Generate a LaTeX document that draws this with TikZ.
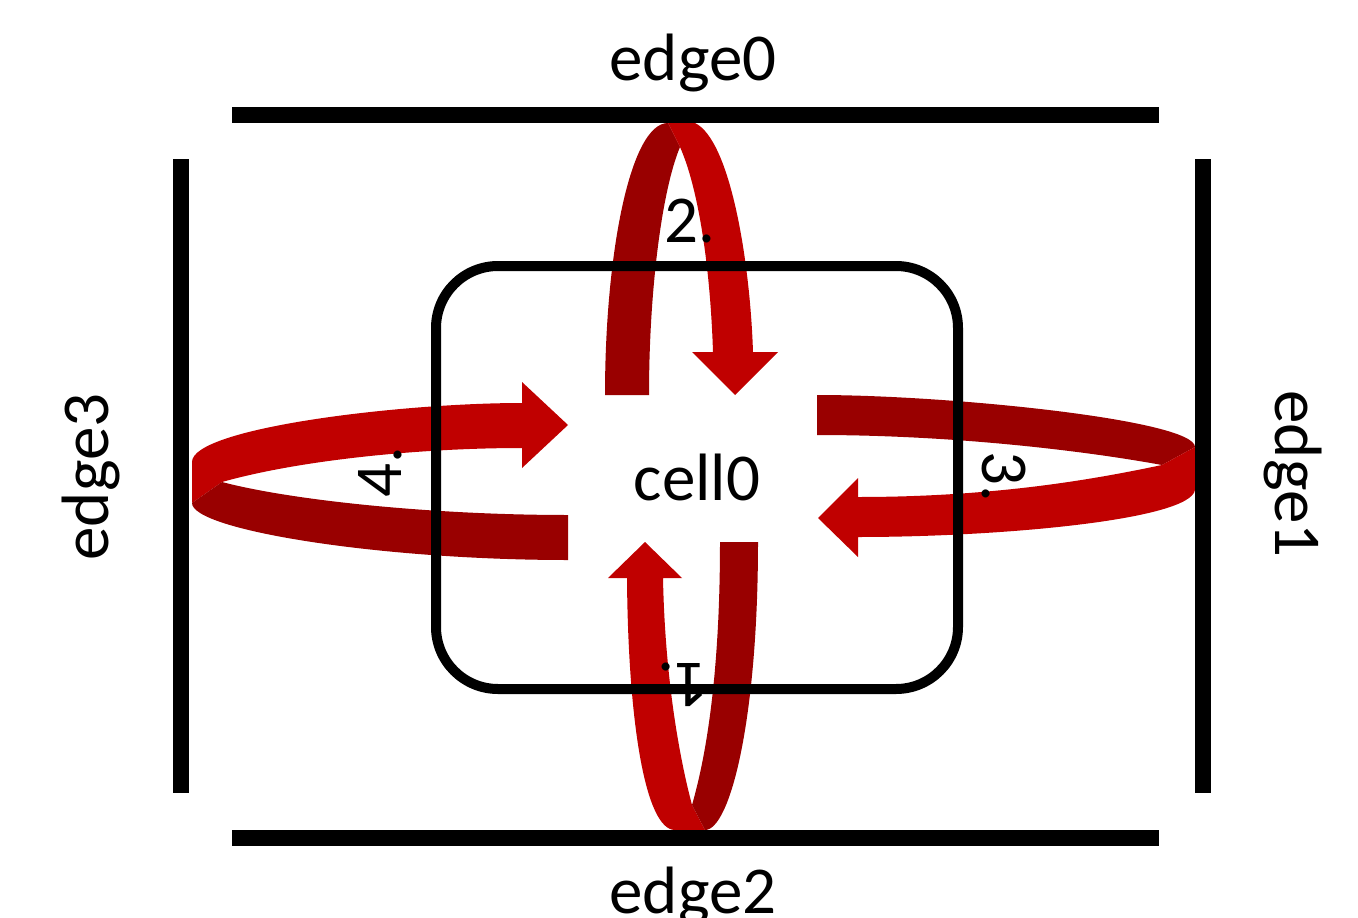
\documentclass[tikz,border=0pt]{standalone}
\usepackage{fontspec}
\setmainfont{Carlito}
\definecolor{darkred}{RGB}{153,0,0}
\definecolor{lightred}{RGB}{192,0,0}
\begin{document}
\begin{tikzpicture}[x=1pt,y=-1pt,
  lbl/.style={font=\fontsize{67}{80}\selectfont, inner sep=0pt, anchor=base},
  edgeline/.style={line width=16pt, line cap=butt},
  back/.style={fill=darkred, draw=none},
  front/.style={fill=lightred, draw=none},
  cellbox/.style={line width=10pt, rounded corners=62pt}]
\useasboundingbox (0,0) rectangle (1358,918);

% ---- top arrow (2.)
\path[back] (605,395) .. controls (605,255) and (630,123) .. (668,123) -- (680,147)
  .. controls (662,190) and (649,290) .. (649,395) -- cycle;
\path[front] (668,123) -- (695,123) .. controls (730,140) and (750,260) .. (753,352)
  -- (778,352) -- (735,395) -- (692,352) -- (713,352)
  .. controls (710,260) and (697,185) .. (680,147) -- cycle;

% ---- bottom arrow (1.)
\path[front] (627,578) .. controls (628,720) and (645,830) .. (675,830) -- (705,830)
  -- (692,805) .. controls (680,760) and (665,680) .. (663,578)
  -- (682,578) -- (645,542) -- (608,578) -- cycle;
\path[back] (692,805) -- (705,830) .. controls (730,830) and (758,720) .. (758,542)
  -- (720,542) .. controls (720,680) and (705,760) .. (692,805) -- cycle;

% ---- left arrow (4.)
\path[front] (192,503) -- (192,462) .. controls (192,428) and (400,403) .. (522,403)
  -- (522,382) -- (568,425) -- (522,468) -- (522,448)
  .. controls (420,448) and (300,460) .. (222,482) -- cycle;
\path[back] (192,503) .. controls (192,530) and (380,560) .. (568,560) -- (568,515)
  .. controls (430,515) and (290,500) .. (222,482) -- cycle;

% ---- right arrow (3.)
\path[back] (817,395) .. controls (950,395) and (1195,420) .. (1195,447) -- (1162,465)
  .. controls (1080,450) and (950,435) .. (817,435) -- cycle;
\path[front] (1195,447) -- (1195,490) .. controls (1190,520) and (1000,537) .. (858,537)
  -- (858,557) -- (818,518) -- (858,478) -- (858,497)
  .. controls (1000,497) and (1100,478) .. (1162,465) -- cycle;

% ---- cell and edges
\draw[cellbox] (436,266) rectangle (958,689);
\coordinate (e0a) at (232,115); \coordinate (e0b) at (1159,115);
\coordinate (e2a) at (232,838); \coordinate (e2b) at (1159,838);
\coordinate (e3a) at (181,159); \coordinate (e3b) at (181,793);
\coordinate (e1a) at (1203,159); \coordinate (e1b) at (1203,793);
\draw[edgeline] (e0a) -- (e0b);
\draw[edgeline] (e2a) -- (e2b);
\draw[edgeline] (e3a) -- (e3b);
\draw[edgeline] (e1a) -- (e1b);

% ---- labels
\node[lbl] (edge0) at (693,80) {edge0};
\node[lbl] (edge2) at (693,913) {edge2};
\node[lbl, rotate=90] (edge3) at (108,477) {edge3};
\node[lbl, rotate=-90] (edge1) at (1275,474) {edge1};
\node[lbl] (cell0) at (697,500) {cell0};
\node[lbl] (n2) at (690,242) {2.};
\node[lbl, rotate=90] (n4) at (401,472) {4.};
\node[lbl, rotate=-90] (n3) at (982,477) {3.};
\node[lbl, rotate=180] (n1) at (683,663) {1.};
\end{tikzpicture}
\end{document}
